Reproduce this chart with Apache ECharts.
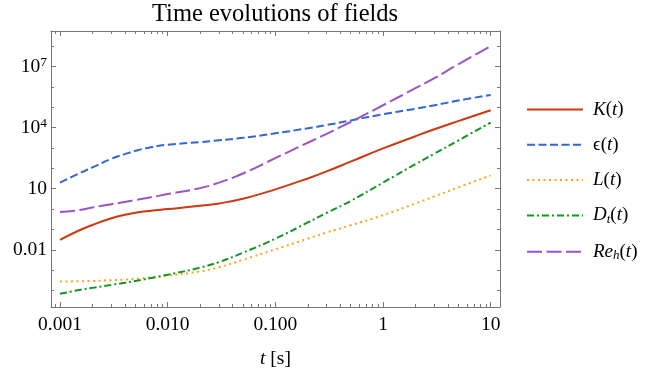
<!DOCTYPE html>
<html><head><meta charset="utf-8">
<script src="https://cdn.jsdelivr.net/npm/echarts@6/dist/echarts.min.js"></script>
<style>html,body{margin:0;padding:0;background:#fff}#c{width:657px;height:373px}</style>
</head><body><div id="c"></div>
<script>
// ---- data ----
const times = [0.001, 0.0015, 0.002, 0.003, 0.004, 0.005, 0.007, 0.01, 0.02, 0.03, 0.05, 0.1, 0.2, 0.3, 0.5, 1, 2, 3, 5, 10];
const kineticK = [0.031, 0.089, 0.166, 0.355, 0.525, 0.66, 0.83, 1.0, 1.45, 1.9, 3.2, 9.3, 32, 71, 214, 955, 3800, 8300, 21000, 72000];
const dissipationEps = [20, 56, 112, 295, 500, 725, 1100, 1450, 1950, 2400, 3160, 5250, 9300, 13500, 22400, 45700, 85000, 126000, 214000, 407000];
const lengthL = [2.75e-4, 2.85e-4, 2.95e-4, 3.24e-4, 3.47e-4, 3.7e-4, 4.4e-4, 5.4e-4, 8.7e-4, 1.38e-3, 3.2e-3, 0.0105, 0.035, 0.071, 0.16, 0.5, 1.9, 4.2, 11.7, 45];
const diffusivityDt = [6.9e-5, 1.05e-4, 1.35e-4, 1.9e-4, 2.4e-4, 2.95e-4, 4.1e-4, 6.0e-4, 1.32e-3, 2.5e-3, 7.2e-3, 0.035, 0.22, 0.65, 2.5, 20, 160, 525, 2340, 17800];
const reynoldsReh = [0.71, 0.89, 1.2, 1.74, 2.24, 2.8, 3.8, 5.5, 10.7, 20, 56, 320, 1820, 5000, 19000, 126000, 870000, 2.7e6, 1.3e7, 1.0e8];

const seriesNames = ['K(t)', 'ϵ(t)', 'L(t)', 'D_t(t)', 'Re_h(t)'];
const xTickValues = [0.001, 0.01, 0.1, 1, 10];
const xTickLabels = ['0.001', '0.010', '0.100', '1', '10'];
const xMinorTicks = [0.0009, 0.002, 0.003, 0.004, 0.005, 0.006, 0.007, 0.008, 0.009,
  0.02, 0.03, 0.04, 0.05, 0.06, 0.07, 0.08, 0.09,
  0.2, 0.3, 0.4, 0.5, 0.6, 0.7, 0.8, 0.9,
  2, 3, 4, 5, 6, 7, 8, 9];
const yTickValues = [0.01, 10, 1e4, 1e7];
const yTickLabels = ['0.01', '10', '10^4', '10^7'];
const yMinorTicks = [1e-4, 1e-3, 0.1, 1, 100, 1000, 1e5, 1e6, 1e8];

// ---- styling ----
const SERIF = 'Liberation Serif, DejaVu Serif, serif';
const X_MIN = 0.000825, X_MAX = 12.2, Y_MIN = 1.55e-5, Y_MAX = 5.6e8;
const AX = '#777';
const colors = ['#cb3a10', '#3366d6', '#ffa31a', '#13961f', '#9955c8'];
const dashes = ['solid', [8, 3.5], [2, 3.5], [7, 3, 2, 3], [15, 4.5]];
const seriesData = [kineticK, dissipationEps, lengthL, diffusivityDt, reynoldsReh];

function findLabel(values, labels, v) {
  const e = Math.round(Math.log10(v) * 1000);
  for (let i = 0; i < values.length; i++) {
    if (Math.round(Math.log10(values[i]) * 1000) === e) return labels[i];
  }
  return '';
}

function mkAxis(kind, pos, ticks, len, withLine, withLabel) {
  const isX = kind === 'x';
  const ax = {
    type: 'log', logBase: 10, position: pos,
    min: isX ? X_MIN : Y_MIN, max: isX ? X_MAX : Y_MAX,
    axisLine: { show: withLine, onZero: false, lineStyle: { color: AX, width: 1 } },
    axisTick: { show: true, inside: true, length: len, customValues: ticks, lineStyle: { color: AX, width: 1 } },
    splitLine: { show: false }, minorTick: { show: false }, minorSplitLine: { show: false },
    axisLabel: { show: false }
  };
  if (withLabel) {
    if (isX) {
      ax.axisLabel = {
        show: true, customValues: xTickValues, margin: 7.5,
        color: '#000', fontFamily: SERIF, fontSize: 19.5,
        formatter: v => findLabel(xTickValues, xTickLabels, v)
      };
      ax.name = '{i|t} [s]';
      ax.nameLocation = 'middle';
      ax.nameGap = 42;
      ax.nameTextStyle = { color: '#000', fontFamily: SERIF, fontSize: 19.5,
        rich: { i: { fontStyle: 'italic', fontFamily: SERIF, fontSize: 19.5, color: '#000' } } };
    } else {
      ax.axisLabel = {
        show: true, customValues: yTickValues, margin: 4,
        color: '#000', fontFamily: SERIF, fontSize: 19.5,
        formatter: v => {
          const s = findLabel(yTickValues, yTickLabels, v);
          if (s.indexOf('^') >= 0) { const p = s.split('^'); return '{b|' + p[0] + '}{s|' + p[1] + '}'; }
          return '{b|' + s + '}';
        },
        rich: {
          b: { fontFamily: SERIF, fontSize: 19.5, color: '#000' },
          s: { fontFamily: SERIF, fontSize: 13.5, color: '#000', padding: [0, 0, 9, 0] }
        }
      };
    }
  }
  return ax;
}

const legendRich = {
  'K(t)': '{i|K}{n|(}{i|t}{n|)}',
  'ϵ(t)': '{n|ϵ(}{i|t}{n|)}',
  'L(t)': '{i|L}{n|(}{i|t}{n|)}',
  'D_t(t)': '{i|D}{sub|t}{n|(}{i|t}{n|)}',
  'Re_h(t)': '{i|Re}{sub|h}{n|(}{i|t}{n|)}'
};

const chart = echarts.init(document.getElementById('c'), null, { renderer: 'canvas' });
chart.setOption({
  animation: false,
  backgroundColor: '#fff',
  title: {
    text: 'Time evolutions of fields', left: 152, top: 2, padding: 0,
    textStyle: { fontFamily: SERIF, fontSize: 24.5, fontWeight: 'normal', color: '#000' }
  },
  grid: { left: 51, top: 31, right: 157, bottom: 66, containLabel: false, outerBoundsMode: 'none' },
  legend: {
    orient: 'vertical', left: 526, top: 100, padding: 0, itemWidth: 56, itemHeight: 14, itemGap: 16.3,
    data: seriesNames,
    itemStyle: { opacity: 0 },
    formatter: n => legendRich[n],
    textStyle: {
      color: '#000', fontFamily: SERIF, fontSize: 19, padding: [0, 0, 0, 5],
      rich: {
        i: { fontStyle: 'italic', fontFamily: SERIF, fontSize: 19, color: '#000' },
        n: { fontFamily: SERIF, fontSize: 19, color: '#000' },
        sub: { fontStyle: 'italic', fontFamily: SERIF, fontSize: 13, color: '#000', padding: [8, 0, 0, 0] }
      }
    }
  },
  xAxis: [
    mkAxis('x', 'bottom', xTickValues, 5, true, true),
    mkAxis('x', 'bottom', xMinorTicks, 3, false, false),
    mkAxis('x', 'top', xTickValues, 5, true, false),
    mkAxis('x', 'top', xMinorTicks, 3, false, false)
  ],
  yAxis: [
    mkAxis('y', 'left', yTickValues, 5, true, true),
    mkAxis('y', 'left', yMinorTicks, 3, false, false),
    mkAxis('y', 'right', yTickValues, 5, true, false),
    mkAxis('y', 'right', yMinorTicks, 3, false, false)
  ],
  series: seriesNames.map((name, k) => ({
    name, type: 'line', xAxisIndex: 0, yAxisIndex: 0,
    data: times.map((t, i) => [t, seriesData[k][i]]),
    smooth: 0.45, symbol: 'none', showSymbol: false,
    lineStyle: { color: colors[k], width: 2, type: dashes[k] },
    itemStyle: { color: colors[k] },
    emphasis: { disabled: true }
  }))
});
</script></body></html>
